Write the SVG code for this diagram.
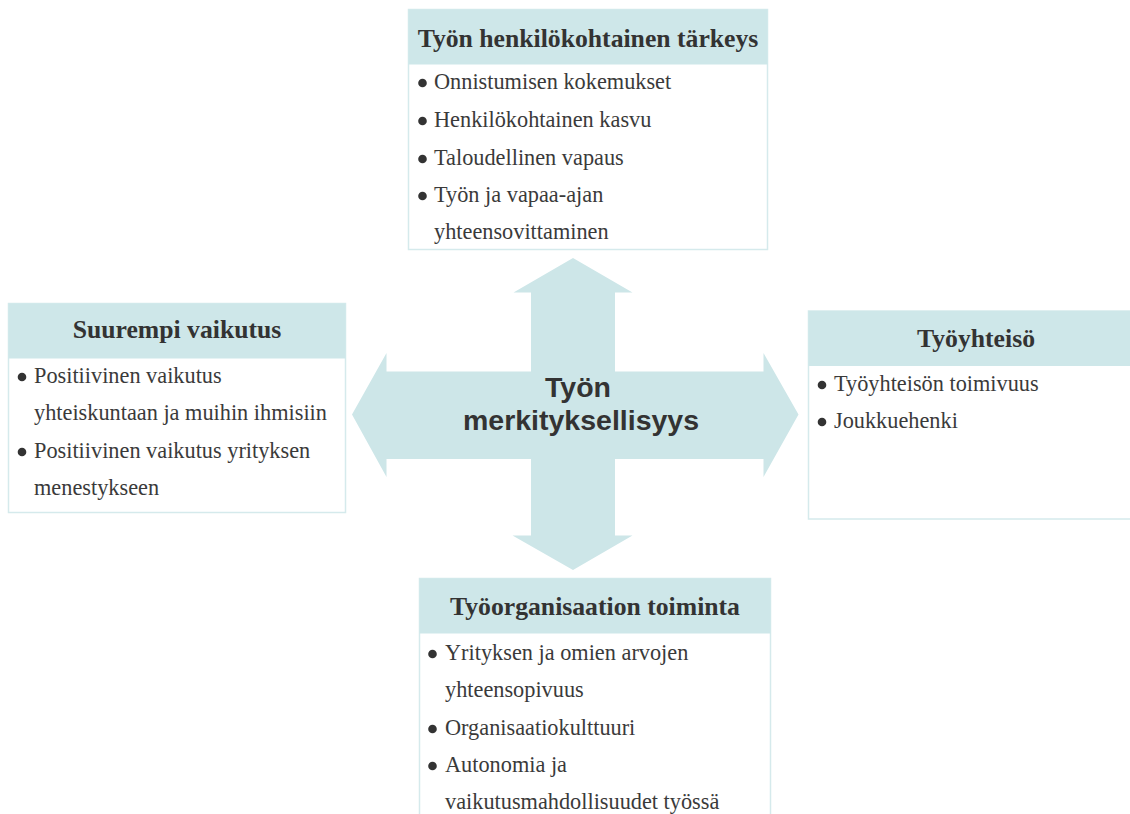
<svg xmlns="http://www.w3.org/2000/svg" width="1130" height="814" viewBox="0 0 1130 814">
<style>
.box{fill:#ffffff;stroke:#d5eaec;stroke-width:1.5}
.hdr{fill:#cee7e9}
.title{font-family:"Liberation Serif",serif;font-weight:bold;font-size:25.7px;fill:#333333;text-anchor:middle}
.item{font-family:"Liberation Serif",serif;font-size:22.3px;fill:#3a3a3a}
.dot{fill:#333333}
.center{font-family:"Liberation Sans",Arial,sans-serif;font-weight:bold;font-size:28.5px;fill:#333333;text-anchor:middle}
</style>
<rect width="1130" height="814" fill="#ffffff"/>
<g id="connectors">
<path d="M573,258 L632.5,292.5 L615,292.5 L615,371.5 L763.5,371.5 L763.5,353 L798.5,414.5 L763.5,477 L763.5,459 L615,459 L615,535.5 L632.5,535.5 L573,570 L512.5,535.5 L531,535.5 L531,459 L386.5,459 L386.5,477 L352,414.5 L386.5,353 L386.5,371.5 L531,371.5 L531,292.5 L513.5,292.5 Z" fill="#cde6e8"/>
</g>
<g id="center">
<text class="center" x="578" y="397">Työn</text>
<text class="center" x="581" y="430">merkityksellisyys</text>
</g>
<g id="node-top">
<rect class="box" x="408.5" y="9.5" width="359" height="240"/>
<rect class="hdr" x="408.5" y="9.5" width="359" height="55"/>
<text class="title" x="588" y="47">Työn henkilökohtainen tärkeys</text>
<circle class="dot" cx="422.5" cy="83" r="4.3"/>
<text class="item" x="434" y="89">Onnistumisen kokemukset</text>
<circle class="dot" cx="422.5" cy="121" r="4.3"/>
<text class="item" x="434" y="127">Henkilökohtainen kasvu</text>
<circle class="dot" cx="422.5" cy="159" r="4.3"/>
<text class="item" x="434" y="165">Taloudellinen vapaus</text>
<circle class="dot" cx="422.5" cy="196" r="4.3"/>
<text class="item" x="434" y="202">Työn ja vapaa-ajan</text>
<text class="item" x="434" y="239">yhteensovittaminen</text>
</g>
<g id="node-left">
<rect class="box" x="8.5" y="303.5" width="337" height="209"/>
<rect class="hdr" x="8.5" y="303.5" width="337" height="55"/>
<text class="title" x="177" y="338">Suurempi vaikutus</text>
<circle class="dot" cx="22" cy="377" r="4.3"/>
<text class="item" x="34" y="383">Positiivinen vaikutus</text>
<text class="item" x="34" y="420">yhteiskuntaan ja muihin ihmisiin</text>
<circle class="dot" cx="22" cy="452" r="4.3"/>
<text class="item" x="34" y="458">Positiivinen vaikutus yrityksen</text>
<text class="item" x="34" y="495">menestykseen</text>
</g>
<g id="node-right">
<rect class="box" x="808.5" y="311" width="340" height="208"/>
<rect class="hdr" x="808.5" y="311" width="340" height="55"/>
<text class="title" x="976" y="347">Työyhteisö</text>
<circle class="dot" cx="822" cy="385" r="4.3"/>
<text class="item" x="834" y="391">Työyhteisön toimivuus</text>
<circle class="dot" cx="822" cy="422" r="4.3"/>
<text class="item" x="834" y="428">Joukkuehenki</text>
</g>
<g id="node-bottom">
<rect class="box" x="419.5" y="578.5" width="351" height="250"/>
<rect class="hdr" x="419.5" y="578.5" width="351" height="55"/>
<text class="title" x="595" y="615">Työorganisaation toiminta</text>
<circle class="dot" cx="432.5" cy="654" r="4.3"/>
<text class="item" x="445" y="660">Yrityksen ja omien arvojen</text>
<text class="item" x="445" y="697">yhteensopivuus</text>
<circle class="dot" cx="432.5" cy="729" r="4.3"/>
<text class="item" x="445" y="735">Organisaatiokulttuuri</text>
<circle class="dot" cx="432.5" cy="766" r="4.3"/>
<text class="item" x="445" y="772">Autonomia ja</text>
<text class="item" x="445" y="809">vaikutusmahdollisuudet työssä</text>
</g>
</svg>
